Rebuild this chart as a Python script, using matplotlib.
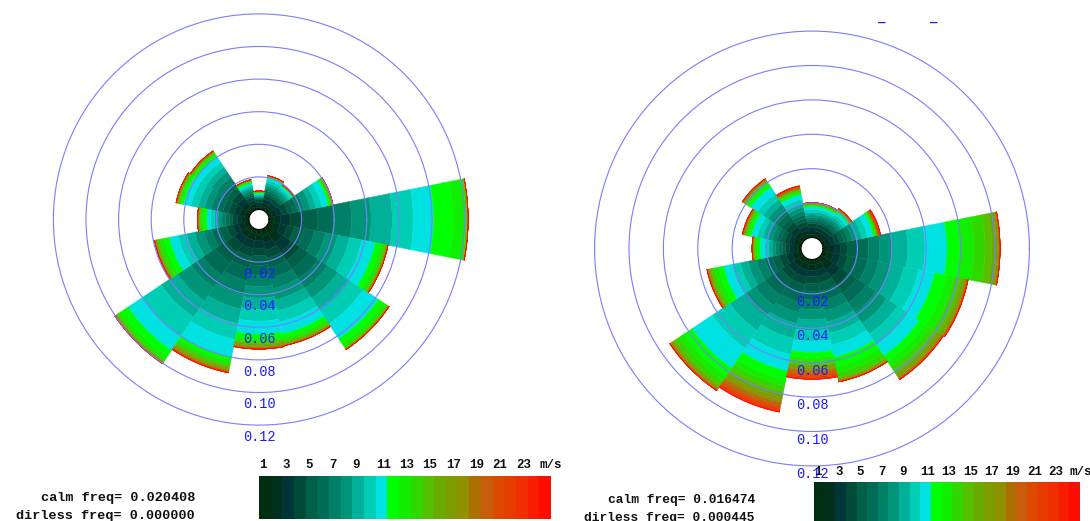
import numpy as np
import matplotlib
matplotlib.use("Agg")
import matplotlib.pyplot as plt

# ---------------- data ----------------
speed_ticks = [1, 3, 5, 7, 9, 11, 13, 15, 17, 19, 21, 23]
speed_unit = "m/s"
bin_colors = ["#002e10", "#00301c", "#003636", "#004a38", "#006048", "#006c56",
              "#008066", "#009478", "#00b098", "#00ceb4", "#00e2e2",
              "#00ff00", "#12ee00", "#30d800", "#56c000", "#6aaa00", "#7c9c00",
              "#909000", "#ac7000", "#c65c0c", "#dc4a00", "#e63c00", "#f02e00",
              "#f81c00", "#ff0c00"]
sector_deg = [0, 22.5, 45, 67.5, 90, 112.5, 135, 157.5,
              180, 202.5, 225, 247.5, 270, 292.5, 315, 337.5]
ring_values = [0.02, 0.04, 0.06, 0.08, 0.10, 0.12]

# left rose: frequency per speed bin (1..25 m/s), one list per direction sector
L_E = [0.003, 0.004, 0.006, 0.008, 0.009, 0.0096, 0.011, 0.012, 0.013, 0.013, 0.0124,
       0.012, 0.0076, 0.0008, 0.0004, 0.0002, 0.0002]
L_ENE = [0.002, 0.003, 0.003, 0.004, 0.003, 0.003, 0.004, 0.004, 0.0035, 0.0037, 0.004,
         0.001, 0.0005, 0.0003, 0.0004, 0.0003, 0.0002, 0.0002, 0.0001]
L_NE = [0.002, 0.002, 0.0025, 0.0025, 0.0013, 0.0013, 0.0014, 0.0015, 0.0013, 0.0013, 0.0014,
        0.0003, 0.0002, 0.0001, 0.0001, 0.0001, 0.0001, 0.0001]
L_NNE = [0.002, 0.002, 0.0025, 0.0025, 0.0015, 0.0015, 0.0015, 0.0015, 0.0016, 0.0017, 0.0017,
         0.0004, 0.0002, 0.0002, 0.0001, 0.0001, 0.0001, 0.0001, 0.0001]
L_N = [0.0012, 0.0015, 0.0016, 0.0017, 0.0005, 0.0005, 0.0005, 0.0005, 0.0007, 0.0006, 0.0007,
       0.0004, 0.0003, 0.0002, 0.0002, 0.0001, 0.0001, 0.0001]
L_NNW = [0.0018, 0.002, 0.002, 0.0022, 0.0012, 0.0012, 0.0013, 0.0013, 0.0011, 0.0012, 0.0012,
         0.0007, 0.0005, 0.0003, 0.0002, 0.0002, 0.0002, 0.0001, 0.0001]
L_NW = [0.003, 0.0035, 0.0035, 0.004, 0.0035, 0.0035, 0.004, 0.004, 0.0035, 0.0037, 0.0038,
        0.0015, 0.001, 0.0005, 0.0004, 0.0003, 0.0003, 0.0002, 0.0002, 0.0001]
L_WNW = [0.003, 0.003, 0.0035, 0.0035, 0.0035, 0.0035, 0.004, 0.004, 0.004, 0.0045, 0.0045,
         0.0015, 0.001, 0.0005, 0.0005, 0.0004, 0.0003, 0.0003, 0.0002, 0.0001]
L_W = [0.002, 0.0025, 0.0027, 0.0028, 0.002, 0.0022, 0.0024, 0.0024, 0.0022, 0.0024, 0.0024,
       0.002, 0.0013, 0.0007, 0.0005, 0.0004, 0.0003, 0.0002, 0.0002, 0.0001]
L_WSW = [0.003, 0.0035, 0.0035, 0.004, 0.0045, 0.005, 0.005, 0.0055, 0.005, 0.0053, 0.0057,
         0.0035, 0.0022, 0.0013, 0.0007, 0.0005, 0.0004, 0.0003, 0.0002, 0.0001, 0.0001]
L_SW = [0.003, 0.004, 0.005, 0.006, 0.008, 0.009, 0.009, 0.01, 0.012, 0.014, 0.0105,
        0.0045, 0.0025, 0.001, 0.0005, 0.0003, 0.0003, 0.0002, 0.0002, 0.0001, 0.0001, 0.0001]
L_SSW = [0.003, 0.004, 0.005, 0.005, 0.007, 0.008, 0.009, 0.009, 0.009, 0.01, 0.011,
         0.0025, 0.0017, 0.0013, 0.001, 0.0008, 0.0007, 0.0005, 0.0004, 0.0003, 0.0002,
         0.0002, 0.0001, 0.0001]
L_S = [0.003, 0.004, 0.0045, 0.0045, 0.006, 0.006, 0.007, 0.007, 0.007, 0.0072, 0.008,
       0.0035, 0.001, 0.0008, 0.0008, 0.0008, 0.0007, 0.0006, 0.0004, 0.0003, 0.0002, 0.0001]
L_SSE = [0.004, 0.0045, 0.0045, 0.005, 0.006, 0.0065, 0.0065, 0.007, 0.0068, 0.007, 0.0076,
         0.0025, 0.0015, 0.0009, 0.0008, 0.0006, 0.0004, 0.0003, 0.0002, 0.0001, 0.0001]
L_SE = [0.005, 0.006, 0.0065, 0.0065, 0.0065, 0.007, 0.007, 0.0075, 0.009, 0.01, 0.011,
        0.0035, 0.002, 0.0012, 0.0004, 0.0003, 0.0002, 0.0001, 0.0001, 0.0001]
L_ESE = [0.003, 0.004, 0.0045, 0.0045, 0.006, 0.0065, 0.007, 0.0075, 0.0075, 0.0078, 0.0083,
         0.0032, 0.0018, 0.0012, 0.0006, 0.0004, 0.0003, 0.0002, 0.0002, 0.0001]

# right rose
R_E = [0.003, 0.0035, 0.0035, 0.004, 0.006, 0.0065, 0.0065, 0.007, 0.0093, 0.01, 0.0128,
       0.0076, 0.008, 0.0065, 0.004, 0.0025, 0.0012, 0.0005, 0.0003, 0.0002, 0.0001]
R_ENE = [0.002, 0.0025, 0.0027, 0.0028, 0.0024, 0.0025, 0.0026, 0.0027, 0.0031, 0.0033, 0.0036,
         0.0009, 0.0005, 0.0004, 0.0002, 0.0002, 0.0002, 0.0002, 0.0002, 0.0003, 0.0003,
         0.0003, 0.0002, 0.0002]
R_NE = [0.0018, 0.002, 0.0022, 0.0023, 0.0014, 0.0014, 0.0014, 0.0014, 0.0016, 0.0017, 0.0018,
        0.0007, 0.0004, 0.0003, 0.0002, 0.0002, 0.0002, 0.0002, 0.0001, 0.0001, 0.0001]
R_NNE = [0.0018, 0.002, 0.0021, 0.0022, 0.0013, 0.0013, 0.0013, 0.0013, 0.0015, 0.0015, 0.0016,
         0.0006, 0.0004, 0.0003, 0.0002, 0.0002, 0.0002, 0.0002, 0.0001, 0.0001, 0.0001]
R_N = [0.0018, 0.002, 0.0022, 0.0022, 0.0012, 0.0012, 0.0012, 0.0013, 0.0015, 0.0016, 0.0018,
       0.0006, 0.0004, 0.0002, 0.0002, 0.0002, 0.0002, 0.0001, 0.0001, 0.0001, 0.0001, 0.0001]
R_NNW = [0.002, 0.0023, 0.0025, 0.0027, 0.002, 0.0021, 0.0022, 0.0023, 0.0023, 0.0025, 0.0027,
         0.0011, 0.0007, 0.0005, 0.0004, 0.0004, 0.0004, 0.0003, 0.0003, 0.0003, 0.0003,
         0.0002, 0.0002, 0.0001]
R_NW = [0.0025, 0.003, 0.0032, 0.0033, 0.003, 0.003, 0.0032, 0.0033, 0.0035, 0.0038, 0.0048,
        0.0017, 0.0011, 0.0007, 0.0005, 0.0004, 0.0004, 0.0003, 0.0003, 0.0002, 0.0001, 0.0001]
R_WNW = [0.002, 0.0025, 0.0028, 0.0027, 0.0022, 0.0024, 0.0025, 0.0026, 0.0032, 0.0033, 0.0035,
         0.0014, 0.0009, 0.0006, 0.0005, 0.0004, 0.0004, 0.0003, 0.0003, 0.0002, 0.0001, 0.0001]
R_W = [0.002, 0.0022, 0.0024, 0.0024, 0.0018, 0.002, 0.002, 0.002, 0.002, 0.0023, 0.0027,
       0.0017, 0.0011, 0.0007, 0.0004, 0.0003, 0.0002, 0.0002, 0.0001]
R_WSW = [0.0025, 0.003, 0.0035, 0.004, 0.004, 0.0045, 0.005, 0.005, 0.0045, 0.005, 0.005,
         0.003, 0.0025, 0.0015, 0.0008, 0.0006, 0.0005, 0.0003, 0.0003, 0.0002, 0.0001, 0.0001]
R_SW = [0.003, 0.0035, 0.004, 0.0045, 0.0055, 0.006, 0.007, 0.0075, 0.01, 0.0124, 0.014,
        0.0055, 0.0035, 0.0026, 0.0012, 0.0008, 0.0006, 0.0005, 0.0004, 0.0003, 0.0002, 0.0001]
R_SSW = [0.003, 0.0035, 0.004, 0.0045, 0.005, 0.0055, 0.006, 0.0065, 0.0088, 0.0095, 0.010,
         0.005, 0.0036, 0.003, 0.0022, 0.0018, 0.0016, 0.0014, 0.0013, 0.0012, 0.0011,
         0.001, 0.0006, 0.0004, 0.0002]
R_S = [0.003, 0.0035, 0.0035, 0.004, 0.0045, 0.005, 0.0055, 0.006, 0.0062, 0.0064, 0.0065,
       0.003, 0.002, 0.0018, 0.001, 0.001, 0.001, 0.001, 0.001, 0.0011, 0.001, 0.0008,
       0.0005, 0.0003, 0.0002]
R_SSE = [0.003, 0.0035, 0.0035, 0.004, 0.005, 0.0055, 0.006, 0.0065, 0.0068, 0.007, 0.0072,
         0.0055, 0.0037, 0.0026, 0.0008, 0.0006, 0.0005, 0.0004, 0.0003, 0.0002, 0.0001]
R_SE = [0.004, 0.0045, 0.005, 0.0055, 0.006, 0.0065, 0.007, 0.0075, 0.0075, 0.0075, 0.0077,
        0.004, 0.0035, 0.003, 0.0018, 0.0014, 0.001, 0.0008, 0.0004, 0.0003, 0.0002,
        0.0001, 0.0001]
R_ESE = [0.003, 0.0035, 0.004, 0.0045, 0.0055, 0.006, 0.0065, 0.007, 0.008, 0.0088, 0.0095,
         0.007, 0.0045, 0.003, 0.0018, 0.0012, 0.0008, 0.0005, 0.0004, 0.0003, 0.0002,
         0.0001, 0.0001]

left_calm = "calm freq= 0.020408"
left_dirless = "dirless freq= 0.000000"
right_calm = "calm freq= 0.016474"
right_dirless = "dirless freq= 0.000445"

left_sectors = [L_E, L_ENE, L_NE, L_NNE, L_N, L_NNW, L_NW, L_WNW,
                L_W, L_WSW, L_SW, L_SSW, L_S, L_SSE, L_SE, L_ESE]
right_sectors = [R_E, R_ENE, R_NE, R_NNE, R_N, R_NNW, R_NW, R_WNW,
                 R_W, R_WSW, R_SW, R_SSW, R_S, R_SSE, R_SE, R_ESE]

# ---------------- drawing ----------------
W, H = 1090, 521
fig = plt.figure(figsize=(W / 100, H / 100), dpi=100)
fig.patch.set_facecolor("white")
MONO = ["Liberation Mono", "DejaVu Sans Mono"]
NB = len(bin_colors)


def draw_rose(cx, cy, slope, origin_px, rmax, sectors, label_off):
    rorigin = origin_px / slope
    rad = (rmax + rorigin) * slope
    ax = fig.add_axes([(cx - rad) / W, 1 - (cy + rad) / H, 2 * rad / W, 2 * rad / H],
                      projection="polar")
    ax.set_facecolor("none")
    ax.set_theta_zero_location("E")
    ax.set_theta_direction(1)
    theta = np.deg2rad(sector_deg)
    width = np.deg2rad(22.5)
    data = np.array([list(s) + [0.0] * (NB - len(s)) for s in sectors])
    bottom = np.zeros(len(sectors))
    for b in range(NB):
        h = data[:, b]
        ax.bar(theta, h, width=width, bottom=bottom, color=bin_colors[b],
               edgecolor=bin_colors[b], linewidth=0.3, align="center", zorder=1)
        bottom = bottom + h
    ax.set_ylim(0, rmax)
    ax.set_rorigin(-rorigin)
    ax.set_rticks(ring_values)
    ax.set_yticklabels([])
    ax.set_xticks([])
    ax.xaxis.grid(False)
    ax.yaxis.grid(True, color="#7c7cff", linewidth=0.8)
    ax.set_axisbelow(False)
    ax.spines["polar"].set_visible(False)
    for v in ring_values:
        ax.text(np.deg2rad(270), v + label_off, f"{v:.2f}", ha="center", va="center",
                color="#1c1cff", fontsize=9.8, family=MONO, zorder=5, clip_on=False)
    return ax


def draw_bar(x0, x1, ytop, ybot, lab_y):
    cax = fig.add_axes([x0 / W, 1 - ybot / H, (x1 - x0) / W, (ybot - ytop) / H])
    cax.bar(np.arange(NB), np.ones(NB), width=1.0, align="edge", color=bin_colors,
            edgecolor=bin_colors, linewidth=0.2)
    cax.set_xlim(0, NB)
    cax.set_ylim(0, 1)
    cax.axis("off")
    yl = 1 + (ytop - lab_y) / (ybot - ytop)
    for v in speed_ticks:
        cax.text(v - 1, yl, str(v), ha="left", va="center", fontsize=9,
                 fontweight="bold", family=MONO, color="#111111", clip_on=False)
    cax.text(NB - 1, yl, speed_unit, ha="left", va="center", fontsize=9,
             fontweight="bold", family=MONO, color="#111111", clip_on=False)


draw_rose(259, 219.5, 1630, 10.0, 0.125, left_sectors, 0.0072)
draw_rose(812, 248.5, 1720, 11.0, 0.125, right_sectors, 0.0047)

draw_bar(259, 551, 476, 519, 465)
draw_bar(814, 1080, 481.5, 523, 471.5)

fig.text(195 / W, 1 - 498 / H, left_calm, ha="right", va="center", fontsize=9.7,
         fontweight="bold", family=MONO, color="#111111")
fig.text(195 / W, 1 - 515.5 / H, left_dirless, ha="right", va="center", fontsize=9.7,
         fontweight="bold", family=MONO, color="#111111")
fig.text(755 / W, 1 - 500 / H, right_calm, ha="right", va="center", fontsize=9.3,
         fontweight="bold", family=MONO, color="#111111")
fig.text(755 / W, 1 - 518 / H, right_dirless, ha="right", va="center", fontsize=9.3,
         fontweight="bold", family=MONO, color="#111111")

# remnants of clipped blue text at the top of the right panel
for xm in (881, 933):
    fig.text(xm / W, 1 - 19 / H, "_", ha="center", va="center", fontsize=9,
             fontweight="bold", family=MONO, color="#1c1cff")

fig.savefig("out.png", dpi=100, facecolor="white")
